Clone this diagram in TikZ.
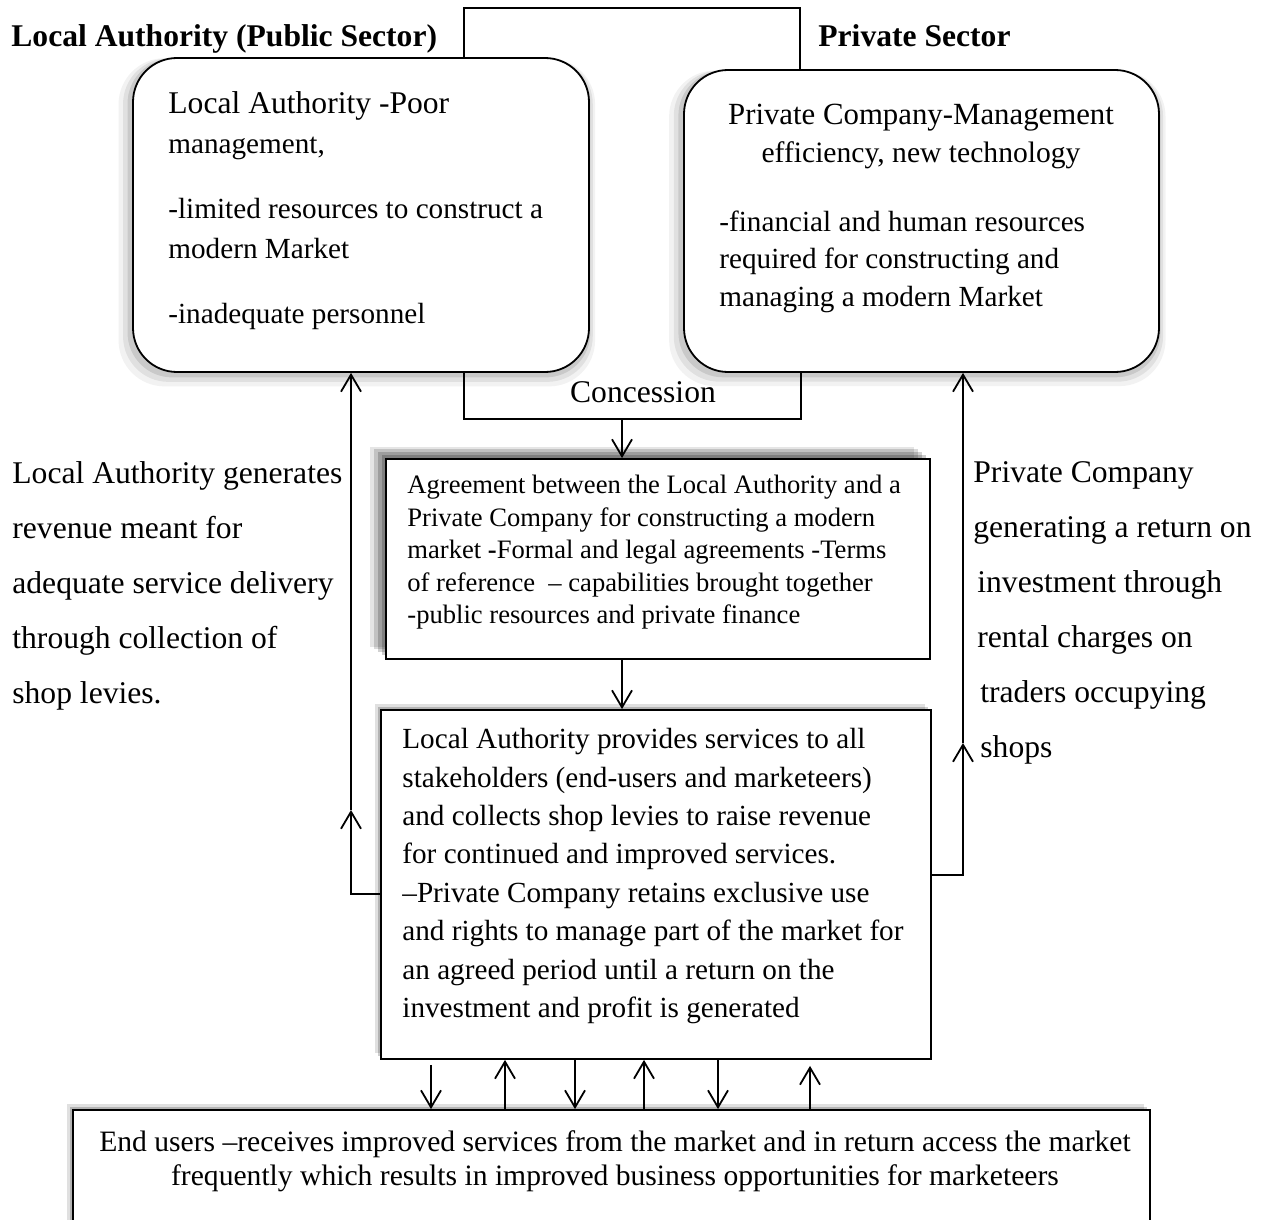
\documentclass[tikz,border=0pt]{standalone}
\usepackage{fontspec}
\setmainfont{Liberation Serif}
\usetikzlibrary{arrows.meta,shadows}

\begin{document}
\begin{tikzpicture}[x=0.5pt, y=-0.5pt,
    box/.style={draw, line width=0.9pt, fill=white, inner sep=0pt},
    roundbox/.style={box, rounded corners=22pt,
        drop shadow={shadow scale=1.015, shadow xshift=-1pt, shadow yshift=-1.5pt, opacity=.1, fill=black},
        drop shadow={shadow scale=1.03, shadow xshift=-1.5pt, shadow yshift=-2.5pt, opacity=.07, fill=black},
        drop shadow={shadow scale=1.045, shadow xshift=-2pt, shadow yshift=-3.5pt, opacity=.05, fill=black}},
    softshadow/.style={
        drop shadow={shadow xshift=-2pt, shadow yshift=2pt, opacity=.2, fill=black},
        drop shadow={shadow xshift=-4pt, shadow yshift=3.5pt, opacity=.18, fill=black},
        drop shadow={shadow xshift=-6pt, shadow yshift=5pt, opacity=.15, fill=black},
        drop shadow={shadow xshift=-8pt, shadow yshift=6pt, opacity=.1, fill=black}},
    lightshadow/.style={
        drop shadow={shadow xshift=-1.5pt, shadow yshift=1.5pt, opacity=.2, fill=black},
        drop shadow={shadow xshift=-3pt, shadow yshift=3pt, opacity=.12, fill=black}},
    txt/.style={inner sep=0pt, align=left, anchor=north west},
    big/.style={font=\fontsize{15.8}{20}\selectfont},
    link/.style={line width=0.9pt},
    arr/.style={line width=0.9pt, -{Straight Barb[length=8.5pt,width=10pt]}}]
    % page
    \path[use as bounding box, fill=white] (0,0) rectangle (1265,1220);

    % Sector titles
    \node[anchor=base west, inner sep=0pt, font=\fontsize{15.8}{20}\selectfont\bfseries] (pubtitle) at (11,47) {Local Authority (Public Sector)};
    \node[anchor=base west, inner sep=0pt, font=\fontsize{15.8}{20}\selectfont\bfseries] (privtitle) at (818,47) {Private Sector};

    % Local Authority (left)
    \node[roundbox, minimum width=228pt, minimum height=157pt] (lbox) at (361,215) {};
    \node[txt, font=\fontsize{14.6}{20}\selectfont] (ltext) at (168,91.4) {{\fontsize{15.8}{20}\selectfont Local Authority -Poor}\\ management,\\[12.5pt] -limited resources to construct a\\ modern Market\\[12.5pt] -inadequate personnel};

    % Private Company (right)
    \node[roundbox, minimum width=237.5pt, minimum height=151pt] (rbox) at (921.5,221) {};
    \node[inner sep=0pt, align=center, anchor=north, font=\fontsize{14.8}{19}\selectfont] (rhead) at (921,104) {{\fontsize{15.4}{19}\selectfont Private Company-Management}\\ efficiency, new technology};
    \node[txt, font=\fontsize{14.6}{18.8}\selectfont] (rtext) at (719,210.1) {-financial and human resources\\ required for constructing and\\ managing a modern Market};

    % link between the two sectors
    \coordinate (tl) at (464,8);
    \coordinate (tr) at (800,8);
    \draw[link] (tl |- lbox.north) -- (tl) -- (tr) -- (tr |- rbox.north);

    % Concession
    \coordinate (cl) at (464,419);
    \coordinate (cr) at (801,419);
    \coordinate (cm) at (622,419);
    \draw[link] (cl |- lbox.south) -- (cl) -- (cr) -- (cr |- rbox.south);
    \node[anchor=base, inner sep=0pt, big] (conc) at (643,402) {Concession};

    % Agreement
    \node[box, softshadow, minimum width=272pt, minimum height=100pt] (agree) at (658,559) {};
    \node[txt, font=\fontsize{13.3}{16.25}\selectfont] (atext) at (407,474.8) {Agreement between the Local Authority and a\\ Private Company for constructing a modern\\ market {\bfseries -}Formal and legal agreements -Terms\\ of reference\ \ – capabilities brought together\\ -public resources and private finance};
    \draw[arr] (cm) -- (cm |- agree.north);

    % Services
    \node[box, lightshadow, minimum width=275pt, minimum height=174.5pt] (serv) at (656,884.5) {};
    \node[txt, font=\fontsize{14.6}{19.2}\selectfont] (stext) at (402,728.1) {Local Authority provides services to all\\ stakeholders (end-users and marketeers)\\ and collects shop levies to raise revenue\\ for continued and improved services.\\ –Private Company retains exclusive use\\ and rights to manage part of the market for\\ an agreed period until a return on the\\ investment and profit is generated};
    \draw[arr] (cm |- agree.south) -- (cm |- serv.north);

    % feedback to the Local Authority
    \coordinate (lturn) at (351,894);
    \coordinate (lmid) at (351,810);
    \draw[arr] (serv.west |- lturn) -| (lmid);
    \draw[arr] (lmid) -- (lmid |- lbox.south);
    \node[txt, font=\fontsize{15.8}{27.5}\selectfont] (lside) at (12,461.4) {Local Authority generates\\ revenue meant for\\ adequate service delivery\\ through collection of\\ shop levies.};

    % feedback to the Private Company
    \coordinate (rturn) at (963,875);
    \coordinate (rmid) at (963,743);
    \draw[arr] (serv.east |- rturn) -| (rmid);
    \draw[arr] (rmid) -- (rmid |- rbox.south);
    \node[txt, font=\fontsize{15.8}{27.5}\selectfont] (rside) at (973,461.4) {Private Company\\ generating a return on\\ \hspace{2pt}investment through\\ \hspace{2pt}rental charges on\\ \hspace{3.5pt}traders occupying\\ \hspace{3.5pt}shops};

    % End users
    \node[box, lightshadow, minimum width=538.5pt, minimum height=75pt] (endu) at (611.5,1185) {};
    \node[inner sep=0pt, align=center, anchor=north, font=\fontsize{14.8}{17}\selectfont] (etext) at (615,1129.8) {End users –receives improved services from the market and in return access the market\\ frequently which results in improved business opportunities for marketeers};

    % two-way traffic
    \foreach \x/\s in {431/2.5, 575/0, 718/0}
        \draw[arr, shorten <=\s pt] ({\x},0 |- serv.south) -- ({\x},0 |- endu.north);
    \foreach \x/\s in {505/0, 644/0, 810/3}
        \draw[arr, shorten >=\s pt] ({\x},0 |- endu.north) -- ({\x},0 |- serv.south);
\end{tikzpicture}
\end{document}
